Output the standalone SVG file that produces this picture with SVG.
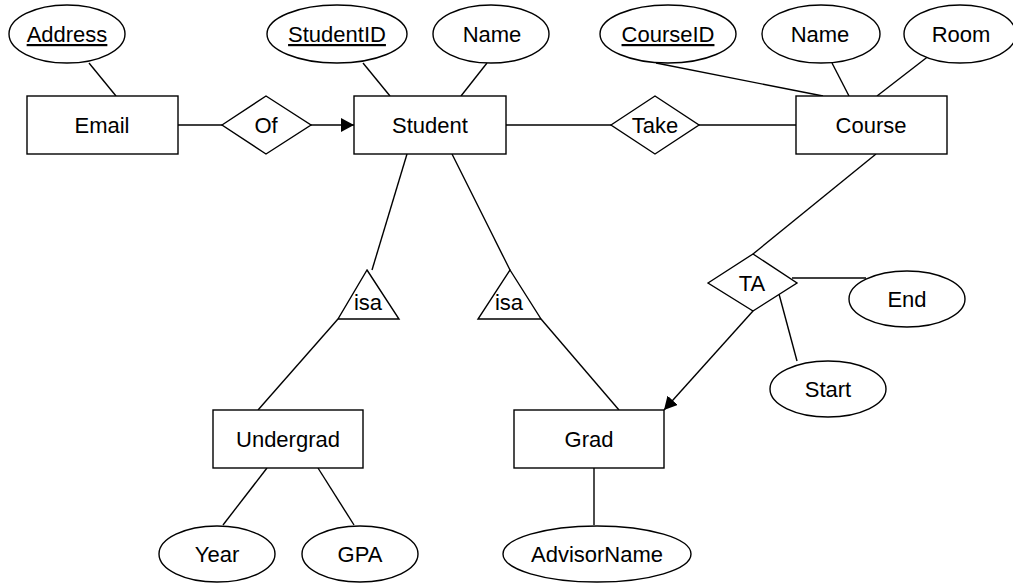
<svg xmlns="http://www.w3.org/2000/svg" width="1013" height="584" viewBox="0 0 1013 584">
<style>
.s{fill:#fff;stroke:#000;stroke-width:1.4}
.c{fill:none;stroke:#000;stroke-width:1.4}
text{font-family:"Liberation Sans",Arial,sans-serif;font-size:22px;fill:#000;text-anchor:middle}
.u{text-decoration:underline}
</style>
<defs>
<marker id="arr" markerUnits="userSpaceOnUse" markerWidth="14" markerHeight="14" refX="13" refY="7" orient="auto">
<path d="M0,0 L13,7 L0,14 z" fill="#000"/>
</marker>
</defs>
<rect width="1013" height="584" fill="#fff"/>
<g id="connectors">
<line class="c" x1="89" y1="63" x2="116" y2="96"/>
<line class="c" x1="363" y1="63" x2="390" y2="96"/>
<line class="c" x1="487" y1="63" x2="461" y2="96"/>
<line class="c" x1="656" y1="63" x2="823" y2="96"/>
<line class="c" x1="832" y1="63" x2="849" y2="96"/>
<line class="c" x1="930" y1="55" x2="877" y2="96"/>
<line class="c" x1="178" y1="125" x2="222" y2="125"/>
<line class="c" x1="311" y1="125" x2="354" y2="125" marker-end="url(#arr)"/>
<line class="c" x1="506" y1="125" x2="611" y2="125"/>
<line class="c" x1="699" y1="125" x2="796" y2="125"/>
<line class="c" x1="407" y1="154" x2="372" y2="270"/>
<line class="c" x1="338" y1="319" x2="258" y2="410"/>
<line class="c" x1="452" y1="154" x2="510" y2="270"/>
<line class="c" x1="541" y1="319" x2="619" y2="410"/>
<line class="c" x1="876" y1="154" x2="753" y2="254"/>
<line class="c" x1="753" y1="311" x2="664" y2="410" marker-end="url(#arr)"/>
<line class="c" x1="792" y1="278" x2="866" y2="278"/>
<line class="c" x1="779" y1="294" x2="797" y2="361"/>
<line class="c" x1="267" y1="468" x2="223" y2="525"/>
<line class="c" x1="318" y1="468" x2="354" y2="525"/>
<line class="c" x1="594" y1="468" x2="594" y2="525"/>
</g>
<g id="address"><ellipse class="s" cx="67" cy="34" rx="58" ry="29"/><text class="u" x="67" y="42">Address</text></g>
<g id="studentid"><ellipse class="s" cx="337" cy="34" rx="70" ry="29"/><text class="u" x="337" y="42">StudentID</text></g>
<g id="sname"><ellipse class="s" cx="491" cy="34" rx="58" ry="29"/><text x="492" y="42">Name</text></g>
<g id="courseid"><ellipse class="s" cx="668" cy="34" rx="68" ry="29"/><text class="u" x="668" y="42">CourseID</text></g>
<g id="cname"><ellipse class="s" cx="821" cy="34" rx="59" ry="29"/><text x="820" y="42">Name</text></g>
<g id="room"><ellipse class="s" cx="960" cy="34" rx="56" ry="29"/><text x="961" y="42">Room</text></g>
<g id="email"><rect class="s" x="27" y="96" width="151" height="58"/><text x="102" y="133">Email</text></g>
<g id="of"><polygon class="s" points="222,125 266,96 311,125 266,154"/><text x="266" y="133">Of</text></g>
<g id="student"><rect class="s" x="354" y="96" width="152" height="58"/><text x="430" y="133">Student</text></g>
<g id="take"><polygon class="s" points="611,125 655,96 699,125 655,154"/><text x="655" y="133">Take</text></g>
<g id="course"><rect class="s" x="796" y="96" width="151" height="58"/><text x="871" y="133">Course</text></g>
<g id="isa1"><polygon class="s" points="367,270 399,319 338,319"/><text x="368" y="310">isa</text></g>
<g id="isa2"><polygon class="s" points="510,270 541,319 478,319"/><text x="509" y="310">isa</text></g>
<g id="ta"><polygon class="s" points="708,283 753,254 797,283 753,311"/><text x="752" y="291">TA</text></g>
<g id="end"><ellipse class="s" cx="907" cy="299" rx="58" ry="28"/><text x="907" y="307">End</text></g>
<g id="start"><ellipse class="s" cx="828" cy="389" rx="58" ry="28"/><text x="828" y="397">Start</text></g>
<g id="undergrad"><rect class="s" x="213" y="410" width="150" height="58"/><text x="288" y="447">Undergrad</text></g>
<g id="grad"><rect class="s" x="514" y="410" width="150" height="58"/><text x="589" y="447">Grad</text></g>
<g id="year"><ellipse class="s" cx="217" cy="554" rx="58" ry="28"/><text x="217" y="562">Year</text></g>
<g id="gpa"><ellipse class="s" cx="360" cy="554" rx="58" ry="28"/><text x="360" y="562">GPA</text></g>
<g id="advisorname"><ellipse class="s" cx="597" cy="554" rx="94" ry="28"/><text x="597" y="562">AdvisorName</text></g>
</svg>
